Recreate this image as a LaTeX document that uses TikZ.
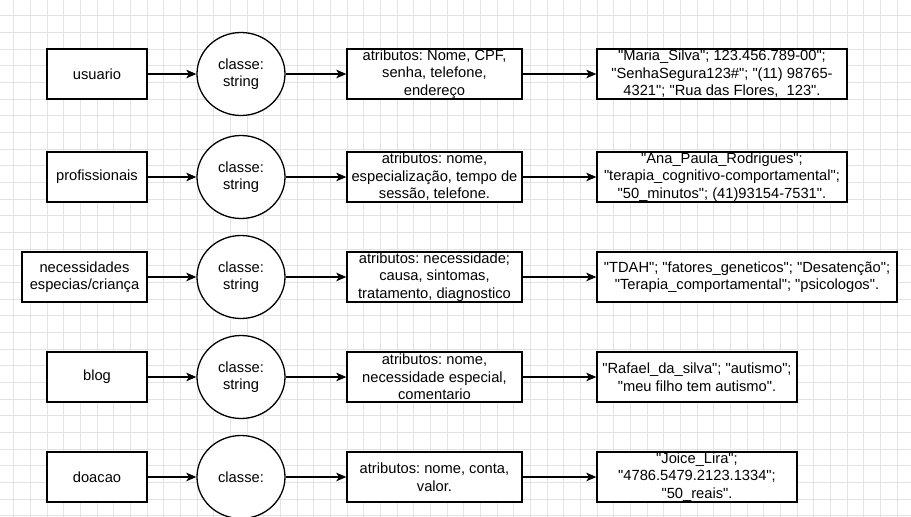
\documentclass[tikz,border=0pt]{standalone}
\usepackage{fontspec}
\setmainfont{Liberation Sans}[Ligatures=TeXOff]
\usetikzlibrary{shapes.geometric,arrows.meta}
\frenchspacing

\tikzset{
  grade/.style={draw=black!11, line width=0.8pt},
  caixa/.style={draw, line width=1.3pt, fill=white, rectangle, inner sep=0pt,
    minimum height=50pt, align=center, font=\fontsize{14.7}{17.5}\selectfont},
  classe/.style={draw, line width=1.3pt, fill=white, ellipse, inner sep=0pt,
    minimum width=88pt, minimum height=83pt, align=center,
    font=\fontsize{14.7}{17.5}\selectfont},
  seta/.style={line width=1.3pt, -{Stealth[length=10pt,width=8.5pt,inset=2.5pt]}}
}

\begin{document}
\begin{tikzpicture}[x=1pt, y=-1pt]
    \useasboundingbox (0,0) rectangle (911,517);
    \clip (0,0) rectangle (911,517);
    % grade de fundo
    \foreach \i in {0,...,54}
      \draw[grade] ({13.67+16.667*\i},0) -- ++(0,517);
    \foreach \j in {0,...,30}
      \draw[grade] (0,{15.67+16.667*\j}) -- ++(911,0);

    % usuario
    \path (97,74) node[caixa, minimum width=100pt] (usuario) {usuario};
    \path (241,74) node[classe] (usuarioC) {classe:\\string};
    \path (434.5,74) node[caixa, minimum width=175pt] (usuarioA)
      {atributos: Nome, CPF,\\senha, telefone,\\endereço};
    \path (722,74) node[caixa, minimum width=250pt] (usuarioV)
      {"Maria\_Silva"; 123.456.789-00";\\"SenhaSegura123\#"; "(11) 98765-\\4321"; "Rua das Flores,\ \ 123".};

    % profissionais
    \path (97,177) node[caixa, minimum width=100pt] (prof) {profissionais};
    \path (241,177) node[classe] (profC) {classe:\\string};
    \path (434.5,177) node[caixa, minimum width=175pt] (profA)
      {atributos: nome,\\especialização, tempo de\\sessão, telefone.};
    \path (722,177) node[caixa, minimum width=250pt] (profV)
      {"Ana\_Paula\_Rodrigues";\\"terapia\_cognitivo-comportamental";\\"50\_minutos"; (41)93154-7531".};

    % necessidades especiais
    \path (84.5,277) node[caixa, minimum width=125pt] (necess)
      {necessidades\\especias/criança};
    \path (241,277) node[classe] (necessC) {classe:\\string};
    \path (434.5,277) node[caixa, minimum width=175pt] (necessA)
      {atributos: necessidade;\\causa, sintomas,\\tratamento, diagnostico};
    \path (747,277) node[caixa, minimum width=300pt] (necessV)
      {"TDAH"; "fatores\_geneticos"; "Desatenção";\\"Terapia\_comportamental"; "psicologos".};

    % blog
    \path (97,377) node[caixa, minimum width=100pt] (blog) {blog};
    \path (241,377) node[classe] (blogC) {classe:\\string};
    \path (434.5,377) node[caixa, minimum width=175pt] (blogA)
      {atributos: nome,\\necessidade especial,\\comentario};
    \path (697,377) node[caixa, minimum width=200pt] (blogV)
      {"Rafael\_da\_silva"; "autismo";\\"meu filho tem autismo".};

    % doacao
    \path (97,477) node[caixa, minimum width=100pt] (doacao) {doacao};
    \path (241,477) node[classe] (doacaoC) {classe:};
    \path (434.5,477) node[caixa, minimum width=175pt] (doacaoA)
      {atributos: nome, conta,\\valor.};
    \path (697,477) node[caixa, minimum width=200pt] (doacaoV)
      {"Joice\_Lira";\\"4786.5479.2123.1334";\\"50\_reais".};

    % setas
    \foreach \r in {usuario,prof,necess,blog,doacao} {
      \draw[seta] (\r) -- (\r C);
      \draw[seta] (\r C) -- (\r A);
      \draw[seta] (\r A) -- (\r V);
    }
\end{tikzpicture}
\end{document}
